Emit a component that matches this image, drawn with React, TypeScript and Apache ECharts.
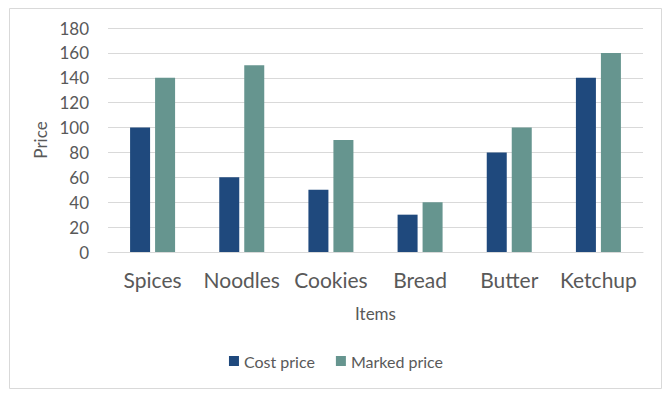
import React, { useEffect, useRef } from "react";
import * as echarts from "echarts";

const categories = ["Spices", "Noodles", "Cookies", "Bread", "Butter", "Ketchup"];
const costPrice = [100, 60, 50, 30, 80, 140];
const markedPrice = [140, 150, 90, 40, 100, 160];

const FONT = "Lato";
const TEXT = "#595959";

export default function App() {
  const ref = useRef<HTMLDivElement>(null);
  useEffect(() => {
    document.body.style.margin = "0";
    const chart = echarts.init(ref.current!, null, { renderer: "svg" });
    chart.setOption({
      animation: false,
      backgroundColor: "#ffffff",
      textStyle: { fontFamily: FONT, color: TEXT },
      graphic: [
        {
          type: "rect",
          shape: { x: 9.5, y: 8.5, width: 652, height: 380 },
          style: { fill: "none", stroke: "#D9D9D9", lineWidth: 1 },
          silent: true,
        },
      ],
      grid: { left: 108, right: 29, top: 28, bottom: 145 },
      legend: {
        bottom: 23,
        left: "center",
        itemWidth: 10,
        itemHeight: 10,
        itemGap: 21,
        icon: "rect",
        textStyle: { fontFamily: FONT, fontSize: 16, color: TEXT },
        data: ["Cost price", "Marked price"],
      },
      xAxis: {
        type: "category",
        data: categories,
        name: "Items",
        nameLocation: "middle",
        nameGap: 53,
        nameTextStyle: { fontFamily: FONT, fontSize: 17, color: TEXT },
        axisLine: { show: true, lineStyle: { color: "#D9D9D9" } },
        axisTick: { show: false },
        axisLabel: { fontFamily: FONT, fontSize: 21, color: TEXT, margin: 17, interval: 0 },
      },
      yAxis: {
        type: "value",
        min: 0,
        max: 180,
        interval: 20,
        name: "Price",
        nameLocation: "middle",
        nameGap: 56,
        nameTextStyle: { fontFamily: FONT, fontSize: 17, color: TEXT },
        axisLine: { show: false },
        axisTick: { show: false },
        axisLabel: { fontFamily: FONT, fontSize: 17, color: TEXT, margin: 19 },
        splitLine: { lineStyle: { color: "#D9D9D9" } },
      },
      series: [
        {
          name: "Cost price",
          type: "bar",
          data: costPrice,
          barWidth: 20,
          barGap: "25%",
          itemStyle: { color: "#1F497D" },
        },
        {
          name: "Marked price",
          type: "bar",
          data: markedPrice,
          barWidth: 20,
          barGap: "25%",
          itemStyle: { color: "#66958F" },
        },
      ],
    });
    return () => chart.dispose();
  }, []);
  return (
    <div
      ref={ref}
      style={{ position: "absolute", left: 0, top: 0, width: 672, height: 397 }}
    />
  );
}
